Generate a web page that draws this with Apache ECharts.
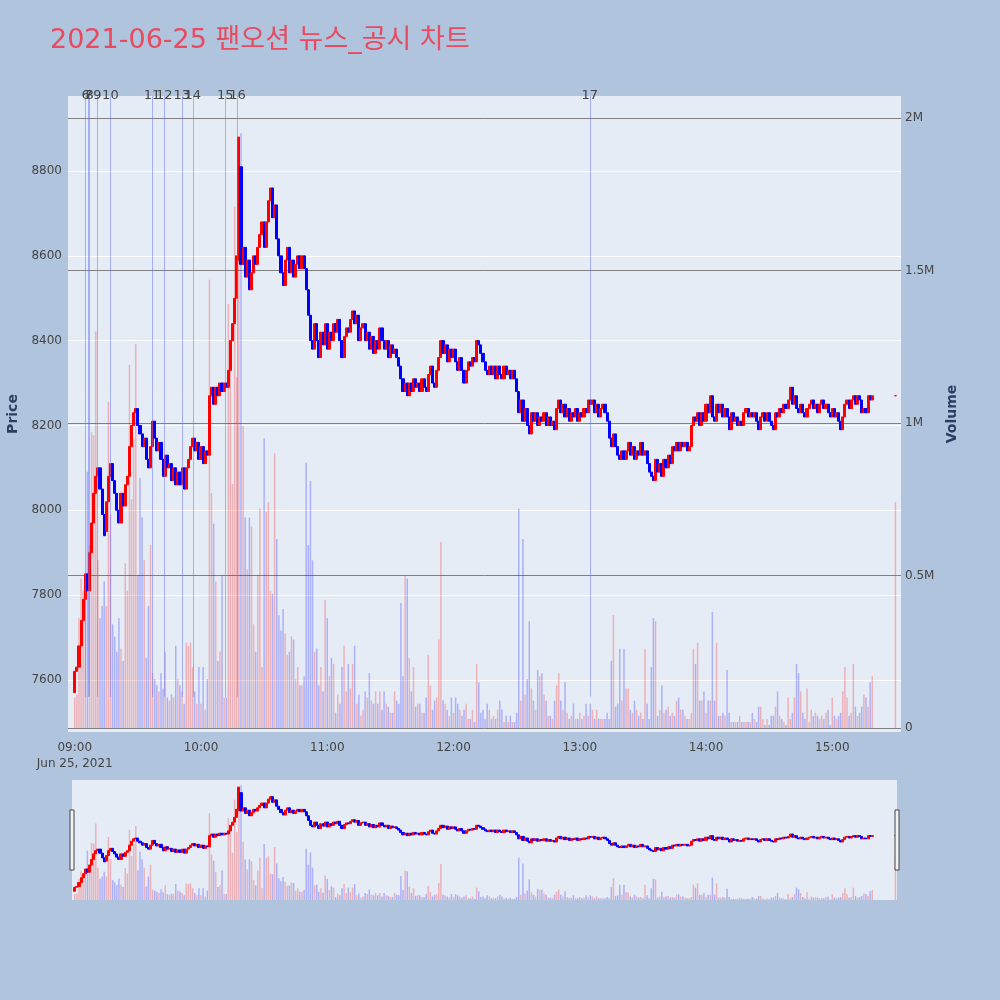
<!DOCTYPE html>
<html>
<head>
<meta charset="utf-8">
<title>2021-06-25 팬오션 뉴스_공시 차트</title>
<script src="https://cdn.jsdelivr.net/npm/echarts@6/dist/echarts.min.js"></script>
<style>
html, body { margin: 0; padding: 0; background: #B0C4DE; }
#chart { width: 1000px; height: 1000px; }
</style>
</head>
<body>
<div id="chart"></div>
<script>
// 2021-06-25, 1분봉 (09:00 ~ 15:19) + 15:30 종가 단일가
const tradeDate = '2021-06-25'
const sessionStart = '09:00'
const closingAuction = '15:30'

const openPx = [
  7570,7620,7630,7680,7740,7790,7850,7810,7900,7970,
  8040,8080,8100,8050,7990,7950,8020,8080,8110,8070,
  8040,8000,7970,8040,8010,8060,8080,8150,8200,8230,
  8240,8200,8180,8150,8170,8120,8100,8150,8210,8170,
  8140,8160,8120,8080,8130,8100,8110,8070,8100,8060,
  8090,8060,8100,8050,8100,8120,8150,8170,8140,8160,
  8120,8150,8110,8140,8130,8270,8290,8250,8290,8270,
  8300,8280,8300,8290,8330,8400,8440,8500,8590,8810,
  8580,8620,8550,8590,8520,8560,8600,8580,8620,8650,
  8680,8620,8680,8730,8760,8690,8720,8640,8600,8560,
  8530,8590,8620,8560,8590,8550,8580,8600,8570,8600,
  8570,8520,8460,8400,8380,8440,8400,8360,8420,8390,
  8440,8380,8420,8400,8440,8420,8450,8400,8360,8410,
  8430,8420,8450,8470,8440,8460,8400,8430,8440,8400,
  8420,8380,8410,8370,8400,8380,8430,8400,8380,8400,
  8360,8390,8370,8380,8360,8340,8310,8280,8300,8270,
  8300,8280,8310,8290,8300,8280,8310,8290,8280,8320,
  8340,8300,8290,8330,8360,8400,8370,8390,8350,8380,
  8360,8380,8350,8330,8360,8330,8300,8330,8350,8340,
  8360,8350,8400,8390,8370,8350,8330,8320,8340,8320,
  8340,8310,8340,8320,8310,8340,8320,8330,8310,8330,
  8310,8280,8230,8260,8210,8240,8200,8180,8230,8210,
  8230,8200,8220,8210,8230,8200,8220,8200,8210,8190,
  8240,8260,8230,8250,8220,8240,8210,8230,8220,8240,
  8210,8230,8220,8240,8230,8260,8250,8260,8230,8250,
  8220,8240,8250,8230,8210,8170,8150,8180,8150,8130,
  8120,8140,8120,8140,8160,8130,8150,8120,8140,8130,
  8160,8130,8140,8110,8090,8080,8070,8120,8090,8110,
  8080,8120,8100,8130,8110,8150,8140,8160,8140,8160,
  8150,8160,8140,8150,8200,8220,8210,8230,8200,8230,
  8210,8250,8230,8270,8220,8210,8250,8230,8250,8220,
  8240,8220,8190,8230,8210,8220,8200,8210,8200,8230,
  8240,8220,8230,8220,8230,8210,8190,8220,8230,8210,
  8230,8210,8200,8190,8230,8220,8240,8230,8250,8240,
  8260,8290,8250,8270,8240,8230,8250,8230,8220,8240,
  8250,8260,8240,8250,8230,8250,8260,8240,8250,8230,
  8220,8240,8220,8230,8210,8190,8220,8250,8260,8240,
  8260,8270,8250,8270,8260,8230,8240,8230,8270,8260,
  8270
]

const closePx = [
  7620,7630,7680,7740,7790,7850,7810,7900,7970,8040,
  8080,8100,8050,7990,7940,8020,8080,8110,8070,8040,
  8000,7970,8040,8010,8060,8080,8150,8200,8230,8240,
  8200,8180,8150,8170,8120,8100,8150,8210,8170,8140,
  8160,8120,8080,8130,8100,8110,8070,8100,8060,8090,
  8060,8100,8050,8100,8120,8150,8170,8140,8160,8120,
  8150,8110,8140,8130,8270,8290,8250,8290,8270,8300,
  8280,8300,8290,8330,8400,8440,8500,8600,8880,8580,
  8620,8550,8590,8520,8560,8600,8580,8620,8650,8680,
  8620,8680,8730,8760,8690,8720,8640,8600,8560,8530,
  8590,8620,8560,8590,8550,8580,8600,8570,8600,8570,
  8520,8460,8400,8380,8440,8400,8360,8420,8390,8440,
  8380,8420,8400,8440,8420,8450,8400,8360,8410,8430,
  8420,8450,8470,8440,8460,8400,8430,8440,8400,8420,
  8380,8410,8370,8400,8380,8430,8400,8380,8400,8360,
  8390,8370,8380,8360,8340,8310,8280,8300,8270,8300,
  8280,8310,8290,8300,8280,8310,8290,8280,8320,8340,
  8300,8290,8330,8360,8400,8370,8390,8350,8380,8360,
  8380,8350,8330,8360,8330,8300,8330,8350,8340,8360,
  8350,8400,8390,8370,8350,8330,8320,8340,8320,8340,
  8310,8340,8320,8310,8340,8320,8330,8310,8330,8310,
  8280,8230,8260,8210,8240,8200,8180,8230,8210,8230,
  8200,8220,8210,8230,8200,8220,8200,8210,8190,8240,
  8260,8230,8250,8220,8240,8210,8230,8220,8240,8210,
  8230,8220,8240,8230,8260,8250,8260,8230,8250,8220,
  8240,8250,8230,8210,8170,8150,8180,8150,8130,8120,
  8140,8120,8140,8160,8130,8150,8120,8140,8130,8160,
  8130,8140,8110,8090,8080,8070,8120,8090,8110,8080,
  8120,8100,8130,8110,8150,8140,8160,8140,8160,8150,
  8160,8140,8150,8200,8220,8210,8230,8200,8230,8210,
  8250,8230,8270,8220,8210,8250,8230,8250,8220,8240,
  8220,8190,8230,8210,8220,8200,8210,8200,8230,8240,
  8220,8230,8220,8230,8210,8190,8220,8230,8210,8230,
  8210,8200,8190,8230,8220,8240,8230,8250,8240,8260,
  8290,8250,8270,8240,8230,8250,8230,8220,8240,8250,
  8260,8240,8250,8230,8250,8260,8240,8250,8230,8220,
  8240,8220,8230,8210,8190,8220,8250,8260,8240,8260,
  8270,8250,8270,8260,8230,8240,8230,8270,8260,8270,
  8270
]

// 거래량 (백만 주)
const volumeM = [
  0.10,0.11,0.36,0.49,0.45,0.48,0.84,0.60,0.97,0.96,
  1.30,0.55,0.36,0.40,0.48,0.40,1.07,0.70,0.34,0.30,
  0.25,0.36,0.26,0.22,0.54,0.45,1.19,0.75,0.95,1.26,
  0.50,0.82,0.69,0.55,0.23,0.40,0.60,0.18,0.16,0.14,
  0.12,0.18,0.13,0.25,0.10,0.09,0.11,0.10,0.27,0.16,
  0.14,0.12,0.08,0.28,0.27,0.28,0.20,0.12,0.08,0.20,
  0.08,0.20,0.06,0.16,1.47,0.77,0.67,0.48,0.22,0.25,
  0.50,0.10,0.10,1.39,1.23,0.80,1.71,1.15,1.94,1.95,
  0.99,0.69,0.52,0.69,0.66,0.34,0.25,0.50,0.72,0.20,
  0.95,0.71,0.74,0.45,0.44,0.90,0.62,0.37,0.32,0.39,
  0.31,0.24,0.25,0.30,0.29,0.16,0.20,0.14,0.14,0.17,
  0.87,0.60,0.81,0.55,0.25,0.26,0.14,0.20,0.12,0.42,
  0.36,0.17,0.23,0.21,0.05,0.11,0.08,0.20,0.27,0.12,
  0.21,0.13,0.21,0.27,0.08,0.11,0.04,0.06,0.12,0.10,
  0.18,0.09,0.08,0.12,0.08,0.12,0.06,0.12,0.08,0.07,
  0.05,0.05,0.12,0.09,0.08,0.41,0.17,0.50,0.49,0.23,
  0.12,0.20,0.07,0.08,0.08,0.05,0.05,0.10,0.24,0.14,
  0.06,0.09,0.10,0.29,0.61,0.09,0.08,0.06,0.04,0.10,
  0.05,0.10,0.08,0.06,0.04,0.06,0.08,0.03,0.03,0.06,
  0.02,0.21,0.15,0.05,0.06,0.03,0.08,0.06,0.03,0.04,
  0.03,0.06,0.09,0.06,0.02,0.04,0.02,0.04,0.02,0.02,
  0.05,0.72,0.09,0.62,0.11,0.16,0.35,0.13,0.09,0.06,
  0.19,0.17,0.18,0.11,0.09,0.04,0.04,0.03,0.09,0.14,
  0.18,0.09,0.06,0.15,0.05,0.03,0.04,0.08,0.03,0.03,
  0.05,0.03,0.04,0.08,0.04,0.08,0.06,0.03,0.06,0.03,
  0.03,0.03,0.03,0.05,0.03,0.22,0.37,0.07,0.08,0.26,
  0.09,0.26,0.13,0.13,0.06,0.05,0.09,0.06,0.04,0.05,
  0.03,0.26,0.08,0.03,0.20,0.36,0.35,0.04,0.06,0.14,
  0.05,0.06,0.07,0.04,0.05,0.04,0.09,0.10,0.06,0.06,
  0.04,0.03,0.03,0.05,0.26,0.21,0.28,0.09,0.09,0.12,
  0.05,0.09,0.09,0.38,0.09,0.28,0.04,0.04,0.05,0.04,
  0.19,0.05,0.02,0.02,0.02,0.02,0.04,0.02,0.02,0.02,
  0.02,0.02,0.05,0.03,0.02,0.07,0.07,0.03,0.01,0.03,
  0.01,0.04,0.04,0.07,0.12,0.04,0.03,0.02,0.01,0.10,
  0.03,0.05,0.10,0.21,0.18,0.12,0.05,0.03,0.13,0.02,
  0.06,0.04,0.05,0.04,0.03,0.04,0.03,0.05,0.06,0.01,
  0.10,0.04,0.03,0.04,0.05,0.12,0.20,0.10,0.04,0.05,
  0.21,0.07,0.04,0.05,0.07,0.11,0.10,0.07,0.15,0.17,
  0.74
]

// 뉴스/공시 시각과 번호
const newsTimes = ['09:05:13','09:06:30','09:07:07','09:10:46','09:16:56','09:36:40',
                   '09:42:33','09:50:54','09:56:07','10:11:29','10:17:19','13:04:47']
const newsLabels = ['6','7','8','9','10','11','12','13','14','15','16','17']
const newsLineLow = 7560

const FONT = '"DejaVu Sans", "Noto Sans CJK KR", sans-serif'
const UP = '#FF0000', DOWN = '#0000FF'

function ts(hms) {
  const p = (hms + ':00').split(':').map(Number)
  const d = tradeDate.split('-').map(Number)
  return new Date(d[0], d[1] - 1, d[2], p[0], p[1], p[2]).getTime()
}

const t0 = ts(sessionStart)
const last = openPx.length - 1
const times = openPx.map((_, i) => i < last ? t0 + i * 60000 : ts(closingAuction))

const isUp = openPx.map((o, i) => {
  const c = closePx[i]
  if (c !== o) return c > o
  return i === 0 || c >= closePx[i - 1]
})

const candles = times.map((t, i) => [t, openPx[i], closePx[i],
  Math.min(openPx[i], closePx[i]), Math.max(openPx[i], closePx[i])])
const volBars = times.map((t, i) => ({
  value: [t, volumeM[i]],
  itemStyle: { color: isUp[i] ? 'rgba(255,0,0,0.25)' : 'rgba(0,0,255,0.25)' }
}))

const PRICE_MAX = 8977, PRICE_MIN = 7477
const newsLines = newsTimes.map((h, i) => [
  { coord: [ts(h), newsLineLow], name: newsLabels[i] },
  { coord: [ts(h), PRICE_MAX] }
])

const candleStyle = {
  color: UP, color0: DOWN, borderColor: UP, borderColor0: DOWN,
  borderColorDoji: UP, borderWidth: 1
}

const chart = echarts.init(document.getElementById('chart'))
chart.setOption({
  animation: false,
  backgroundColor: '#B0C4DE',
  textStyle: { fontFamily: FONT },
  title: {
    text: '2021-06-25 팬오션 뉴스_공시 차트',
    left: 45, top: 22,
    textStyle: { color: '#E84A5F', fontSize: 27, fontWeight: 'normal', fontFamily: FONT }
  },
  grid: [
    { left: 68, right: 99, top: 96, bottom: 268, show: true, backgroundColor: '#E5ECF6',
      borderWidth: 0, containLabel: false, outerBoundsMode: 'none' },
    { left: 72, right: 103, top: 780, height: 120, show: true, backgroundColor: '#E5ECF6',
      borderWidth: 0, containLabel: false, outerBoundsMode: 'none' }
  ],
  xAxis: [
    {
      type: 'time', gridIndex: 0,
      min: t0 - 171000, max: ts(closingAuction) + 138000,
      minInterval: 3600000, maxInterval: 3600000,
      axisLine: { show: false }, axisTick: { show: false }, splitLine: { show: false },
      axisLabel: {
        color: '#444', fontSize: 12, margin: 8, lineHeight: 16,
        formatter: function (v) {
          const d = new Date(v)
          const s = String(d.getHours()).padStart(2, '0') + ':' + String(d.getMinutes()).padStart(2, '0')
          return v === t0 ? s + '\nJun 25, 2021' : s
        }
      }
    },
    {
      type: 'time', gridIndex: 1, show: false,
      min: t0 - 57000, max: ts(closingAuction) + 24000,
      splitLine: { show: false }
    }
  ],
  yAxis: [
    {
      type: 'value', gridIndex: 0, position: 'left',
      min: PRICE_MIN, max: PRICE_MAX, splitNumber: 7,
      name: 'Price', nameLocation: 'middle', nameGap: 48, nameRotate: 90,
      nameTextStyle: { color: '#2a3f5f', fontSize: 14, fontWeight: 'bold' },
      axisLine: { show: false }, axisTick: { show: false },
      axisLabel: { color: '#444', fontSize: 12, margin: 6, showMinLabel: false, showMaxLabel: false,
                   formatter: v => String(v) },
      splitLine: { showMinLine: false, showMaxLine: false, lineStyle: { color: '#ffffff', width: 1 } }
    },
    {
      type: 'value', gridIndex: 0, position: 'right',
      min: -0.013, max: 2.072, splitNumber: 4,
      name: 'Volume', nameLocation: 'middle', nameGap: 44, nameRotate: 90,
      nameTextStyle: { color: '#2a3f5f', fontSize: 14, fontWeight: 'bold' },
      axisLine: { show: false }, axisTick: { show: false },
      axisLabel: {
        color: '#444', fontSize: 12, margin: 4, showMinLabel: false, showMaxLabel: false,
        formatter: v => (Math.abs(v) < 1e-9 ? '0' : v + 'M')
      },
      splitLine: { showMinLine: false, showMaxLine: false, lineStyle: { color: '#808080', width: 1 } }
    },
    { type: 'value', gridIndex: 1, show: false, min: 7460, max: 8970, splitLine: { show: false } },
    { type: 'value', gridIndex: 1, show: false, min: 0, max: 2.04, splitLine: { show: false } }
  ],
  graphic: [
    { type: 'rect', z: 100, shape: { x: 70, y: 810, width: 4, height: 60 },
      style: { fill: '#f2f2f2', stroke: '#444', lineWidth: 1 } },
    { type: 'rect', z: 100, shape: { x: 895, y: 810, width: 4, height: 60 },
      style: { fill: '#f2f2f2', stroke: '#444', lineWidth: 1 } }
  ],
  series: [
    {
      name: 'Volume', type: 'bar', xAxisIndex: 0, yAxisIndex: 1,
      barWidth: 1.5, data: volBars, z: 1
    },
    {
      name: 'Price', type: 'candlestick', xAxisIndex: 0, yAxisIndex: 0,
      encode: { x: 0, y: [1, 2, 3, 4] },
      barWidth: 2.6, itemStyle: candleStyle, data: candles, z: 3,
      markLine: {
        silent: true, symbol: ['none', 'none'], animation: false,
        lineStyle: { color: 'rgba(99,110,250,0.5)', width: 1, type: 'solid' },
        label: { show: true, position: 'end', distance: -6, color: '#444', fontSize: 13,
                 formatter: p => p.name },
        data: newsLines
      }
    },
    {
      type: 'bar', xAxisIndex: 1, yAxisIndex: 3,
      barWidth: 1.5, data: volBars, z: 1
    },
    {
      type: 'candlestick', xAxisIndex: 1, yAxisIndex: 2,
      encode: { x: 0, y: [1, 2, 3, 4] },
      barWidth: 2.6, itemStyle: candleStyle, data: candles, z: 3
    }
  ]
})
</script>
</body>
</html>
